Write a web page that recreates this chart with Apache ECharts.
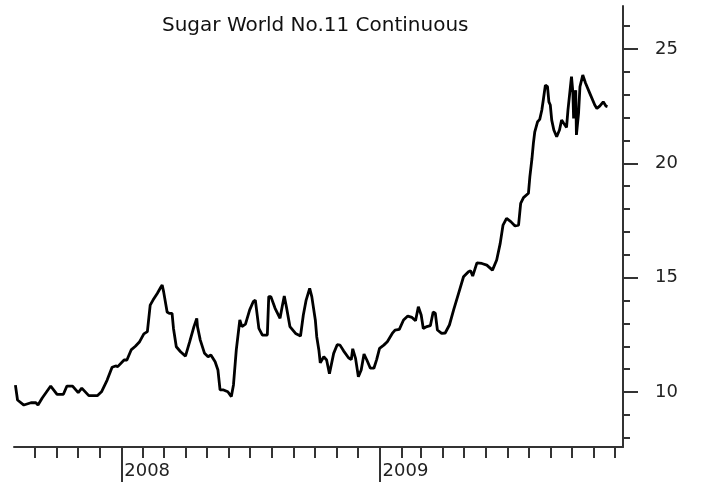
<!DOCTYPE html>
<html>
<head>
<meta charset="utf-8">
<script src="https://cdn.jsdelivr.net/npm/echarts@6/dist/echarts.min.js"></script>
<style>
  html, body { margin: 0; padding: 0; background: #fff; }
  #main { width: 726px; height: 486px; }
</style>
</head>
<body>
<div id="main"></div>
<script>
// sugar no.11 continuous
const dates = [
  '2007-08-04', '2007-08-07', '2007-08-16', '2007-08-26', '2007-09-02', '2007-09-05', '2007-09-11', '2007-09-23',
  '2007-10-02', '2007-10-11', '2007-10-16', '2007-10-24', '2007-11-01', '2007-11-06', '2007-11-16', '2007-11-28',
  '2007-12-04', '2007-12-12', '2007-12-19', '2007-12-24', '2007-12-27',
  '2008-01-05', '2008-01-09', '2008-01-15', '2008-01-21', '2008-01-27', '2008-02-02', '2008-02-07', '2008-02-11',
  '2008-02-15', '2008-02-21', '2008-02-26', '2008-02-28', '2008-03-01', '2008-03-06', '2008-03-09', '2008-03-13',
  '2008-03-15', '2008-03-19', '2008-03-25', '2008-04-01', '2008-04-07', '2008-04-13', '2008-04-17', '2008-04-18',
  '2008-04-22', '2008-04-28', '2008-05-03', '2008-05-07', '2008-05-13', '2008-05-17', '2008-05-20', '2008-05-25',
  '2008-05-31', '2008-06-05', '2008-06-08', '2008-06-12', '2008-06-17', '2008-06-20', '2008-06-25', '2008-07-01',
  '2008-07-06', '2008-07-09', '2008-07-14', '2008-07-19', '2008-07-26', '2008-07-28', '2008-07-31', '2008-08-06',
  '2008-08-13', '2008-08-16', '2008-08-19', '2008-08-22', '2008-08-27', '2008-09-04', '2008-09-11', '2008-09-15',
  '2008-09-19', '2008-09-24', '2008-09-27', '2008-10-02', '2008-10-04', '2008-10-07', '2008-10-09', '2008-10-14',
  '2008-10-18', '2008-10-22', '2008-10-28', '2008-11-02', '2008-11-06', '2008-11-11', '2008-11-18', '2008-11-22',
  '2008-11-24', '2008-11-28', '2008-12-02', '2008-12-06', '2008-12-10', '2008-12-14', '2008-12-19', '2008-12-24',
  '2008-12-28',
  '2009-01-01', '2009-01-07', '2009-01-12', '2009-01-19', '2009-01-23', '2009-01-29', '2009-02-04', '2009-02-10',
  '2009-02-16', '2009-02-21', '2009-02-25', '2009-03-01', '2009-03-04', '2009-03-09', '2009-03-14', '2009-03-18',
  '2009-03-21', '2009-03-24', '2009-03-30', '2009-04-04', '2009-04-10', '2009-04-16', '2009-04-23', '2009-04-30',
  '2009-05-07', '2009-05-10', '2009-05-13', '2009-05-19', '2009-05-26', '2009-06-02', '2009-06-10', '2009-06-16',
  '2009-06-21', '2009-06-25', '2009-06-30', '2009-07-06', '2009-07-12', '2009-07-17', '2009-07-20', '2009-07-24',
  '2009-07-31', '2009-08-02', '2009-08-05', '2009-08-07', '2009-08-09', '2009-08-13', '2009-08-16', '2009-08-19',
  '2009-08-21', '2009-08-24', '2009-08-27', '2009-08-29', '2009-08-31', '2009-09-02', '2009-09-05', '2009-09-09',
  '2009-09-13', '2009-09-16', '2009-09-19', '2009-09-23', '2009-09-25', '2009-09-28', '2009-09-30', '2009-10-02',
  '2009-10-03', '2009-10-06', '2009-10-07', '2009-10-10', '2009-10-12', '2009-10-16', '2009-10-20', '2009-10-26',
  '2009-11-02', '2009-11-05', '2009-11-09', '2009-11-14', '2009-11-18', '2009-11-20'
];
const prices = [
  10.30, 9.65, 9.43, 9.53, 9.53, 9.43, 9.74, 10.26,
  9.90, 9.90, 10.26, 10.26, 9.97, 10.17, 9.84, 9.84,
  10.01, 10.52, 11.08, 11.14, 11.11,
  11.40, 11.40, 11.84, 12.00, 12.20, 12.54, 12.64, 13.80,
  14.02, 14.31, 14.58, 14.68, 14.39, 13.50, 13.44, 13.44,
  12.78, 11.98, 11.76, 11.57, 12.20, 12.86, 13.22, 12.86,
  12.27, 11.69, 11.54, 11.62, 11.32, 10.96, 10.09, 10.09,
  10.01, 9.80, 10.31, 11.84, 13.15, 12.86, 12.97, 13.59,
  13.95, 14.02, 12.78, 12.49, 12.49, 14.17, 14.17, 13.66,
  13.22, 13.73, 14.20, 13.73, 12.86, 12.56, 12.45, 13.37,
  14.02, 14.53, 14.17, 13.15, 12.42, 11.84, 11.28, 11.54,
  11.40, 10.80, 11.69, 12.07, 12.05, 11.80, 11.50, 11.42,
  11.89, 11.47, 10.67, 10.96, 11.66, 11.40, 11.04, 11.04,
  11.43,
  11.91, 12.05, 12.20, 12.56, 12.71, 12.74, 13.15, 13.32,
  13.26, 13.12, 13.73, 13.37, 12.78, 12.86, 12.90, 13.50,
  13.45, 12.71, 12.56, 12.58, 12.93, 13.59, 14.31, 15.04,
  15.26, 15.30, 15.07, 15.65, 15.62, 15.55, 15.33, 15.77,
  16.50, 17.30, 17.59, 17.45, 17.26, 17.30, 18.25, 18.50,
  18.69, 19.41, 20.21, 20.87, 21.38, 21.82, 21.92, 22.33,
  22.76, 23.42, 23.35, 22.69, 22.55, 21.89, 21.46, 21.16,
  21.46, 21.89, 21.75, 21.57, 22.33, 23.20, 23.79, 23.10,
  21.96, 23.20, 21.24, 22.18, 23.35, 23.86, 23.50, 23.06,
  22.55, 22.40, 22.50, 22.69, 22.50, 22.48
];
const yLabels = [10, 15, 20, 25];
const yMinorTicks = [8, 9, 10, 11, 12, 13, 14, 15, 16, 17, 18, 19, 20, 21, 22, 23, 24, 25, 26];
const yearTicks = ['2008-01-01', '2009-01-01'];

const xMin = '2007-08-02';
const xMax = '2009-12-12';

// local-time timestamps, so day boundaries line up with the month ticks
const ts = s => {
  const p = s.split('-').map(Number);
  return new Date(p[0], p[1] - 1, p[2]).getTime();
};

// month starts for the small ticks
let monthTicks = [];
for (let y = 2007; y <= 2009; y++) {
  for (let m = 0; m < 12; m++) {
    let t = new Date(y, m, 1).getTime();
    if (t > ts(xMin) && t < ts(xMax)) monthTicks.push(t);
  }
}

const lineCol = '#333';
const font = 'DejaVu Sans';

let chart = echarts.init(document.getElementById('main'));
chart.setOption({
  animation: false,
  backgroundColor: '#fff',
  title: {
    text: 'Sugar World No.11 Continuous',
    left: 162,
    top: 16,
    padding: 0,
    textStyle: { fontFamily: font, fontSize: 20, fontWeight: 'normal', color: '#111' }
  },
  grid: { left: 14, right: 103, top: 6, bottom: 39 },
  xAxis: [{
    type: 'value',
    position: 'bottom',
    min: ts(xMin),
    max: ts(xMax),
    axisLine: { show: true, lineStyle: { color: lineCol, width: 2 } },
    axisTick: { show: true, length: 11, customValues: monthTicks, lineStyle: { color: lineCol, width: 2 } },
    axisLabel: { show: false },
    splitLine: { show: false }
  }, {
    type: 'value',
    position: 'bottom',
    min: ts(xMin),
    max: ts(xMax),
    axisLine: { show: false },
    axisTick: { show: true, length: 35, customValues: yearTicks.map(ts), lineStyle: { color: lineCol, width: 2 } },
    axisLabel: {
      show: true,
      customValues: yearTicks.map(ts),
      formatter: v => String(new Date(v).getFullYear()),
      align: 'left',
      padding: [0, 0, 0, 3],
      margin: 15,
      fontFamily: font,
      fontSize: 18,
      color: '#222'
    },
    splitLine: { show: false }
  }],
  yAxis: [{
    type: 'value',
    position: 'right',
    min: 7.595,
    max: 26.88,
    axisLine: { show: true, lineStyle: { color: lineCol, width: 2 } },
    axisTick: { show: true, length: 15, customValues: yLabels, lineStyle: { color: lineCol, width: 2 } },
    axisLabel: {
      customValues: yLabels,
      margin: 32,
      fontFamily: font,
      fontSize: 18,
      color: '#222'
    },
    splitLine: { show: false }
  }, {
    type: 'value',
    position: 'right',
    min: 7.595,
    max: 26.88,
    axisLine: { show: false },
    axisTick: { show: true, length: 7, customValues: yMinorTicks, lineStyle: { color: lineCol, width: 2 } },
    axisLabel: { show: false },
    splitLine: { show: false }
  }],
  series: [{
    type: 'line',
    xAxisIndex: 0,
    yAxisIndex: 0,
    data: dates.map((d, i) => [ts(d), prices[i]]),
    symbol: 'none',
    lineStyle: { color: '#000', width: 2.8 }
  }]
});
</script>
</body>
</html>
